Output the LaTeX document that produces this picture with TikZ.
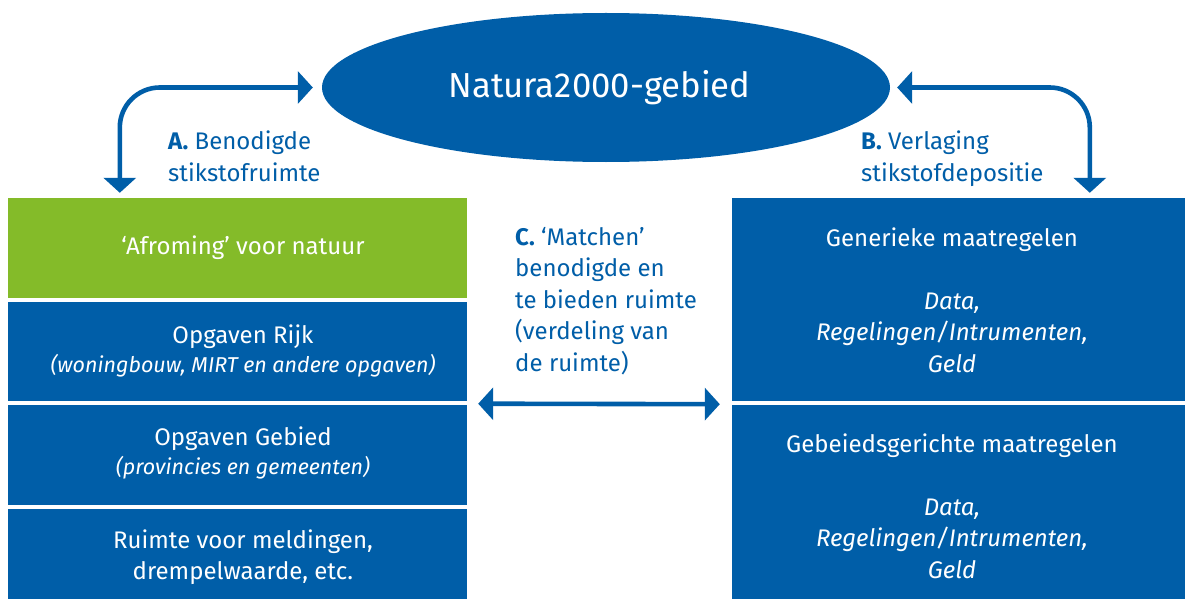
\documentclass[tikz,border=0pt]{standalone}
\usepackage{fontspec}
\setmainfont{Fira Sans}
\usetikzlibrary{arrows.meta,shapes.geometric,calc}
\definecolor{rvoblue}{RGB}{0,94,168}
\definecolor{rvogreen}{RGB}{132,187,41}
\begin{document}
\begin{tikzpicture}[x=1pt,y=-1pt,
  box/.style={fill=rvoblue, inner sep=0pt},
  boxtext/.style={text=white, inner sep=0pt, align=center,
    font=\fontsize{24}{31.5}\selectfont},
  lbl/.style={text=rvoblue, inner sep=0pt, align=left, anchor=north west,
    font=\fontsize{24}{32}\selectfont},
  conn/.style={draw=rvoblue, line width=4.6pt, {Triangle[length=15pt,width=32pt]}-{Triangle[length=15pt,width=32pt]}},
]
\useasboundingbox (0,0) rectangle (1185,599);
\fill[white] (0,0) rectangle (1185,599);

\node[ellipse, fill=rvoblue, inner sep=0pt, minimum width=568pt, minimum height=149pt] (ell) at (606,87.5) {};
\node[text=white, inner sep=0pt, font=\fontsize{34.7}{40}\selectfont] (ellT) at (599.5,87.5) {Natura2000-gebied};

% left column
\node[box, fill=rvogreen, minimum width=459pt, minimum height=100pt] (afroming) at (237.5,248) {};
\node[boxtext] (afromingT) at (243,248) {‘Afroming’ voor natuur};
\node[box, minimum width=459pt, minimum height=99pt] (rijk) at (237.5,351.5) {};
\node[boxtext] (rijkT) at (243,351)
  {Opgaven Rijk\\[-3pt]{\fontsize{21.5}{28}\selectfont\itshape (woningbouw, MIRT en andere opgaven)}};
\node[box, minimum width=459pt, minimum height=100pt] (gebied) at (237.5,455) {};
\node[boxtext] (gebiedT) at (243,453)
  {Opgaven Gebied\\[-3pt]{\fontsize{21.5}{28}\selectfont\itshape (provincies en gemeenten)}};
\node[box, minimum width=459pt, minimum height=96pt] (ruimte) at (237.5,557) {};
\node[boxtext] (ruimteT) at (243,557) {Ruimte voor meldingen,\\drempelwaarde, etc.};

% right column
\node[box, minimum width=460pt, minimum height=203pt] (generiek) at (962,299.5) {};
\node[boxtext] (generiekT) at (952,300)
  {Generieke maatregelen\\[31.5pt]\itshape Data,\\\itshape Regelingen/Intrumenten,\\\itshape Geld};
\node[box, minimum width=460pt, minimum height=205pt] (gebiedsgericht) at (962,507.5) {};
\node[boxtext] (gebiedsgerichtT) at (952,506)
  {Gebeiedsgerichte maatregelen\\[31.5pt]\itshape Data,\\\itshape Regelingen/Intrumenten,\\\itshape Geld};

% labels
\node[lbl] (labA) at (168,131) {\textbf{A.} Benodigde\\stikstofruimte};
\node[lbl] (labB) at (861,131) {\textbf{B.} Verlaging\\stikstofdepositie};
\node[lbl, font=\fontsize{24}{31.5}\selectfont] (labC) at (515,227)
  {\textbf{C.} ‘Matchen’\\benodigde en\\te bieden ruimte\\(verdeling van\\de ruimte)};

% connectors
\coordinate (hA) at ($(ell.west)+(-9,0)$);
\coordinate (tA) at ($(afroming.north west)+(112,-5)$);
\coordinate (hB) at ($(ell.east)+(7,0)$);
\coordinate (tB) at ($(generiek.north west)+(358,-5)$);
\coordinate (mL) at ($(rijk.south east)+(11,2.5)$);
\coordinate (mR) at ($(generiek.south west)+(-12,3)$);
\draw[conn, rounded corners=40pt] (hA) -| (tA);
\draw[conn, rounded corners=40pt] (hB) -| (tB);
\draw[conn] (mL) -- (mR);
\end{tikzpicture}
\end{document}
